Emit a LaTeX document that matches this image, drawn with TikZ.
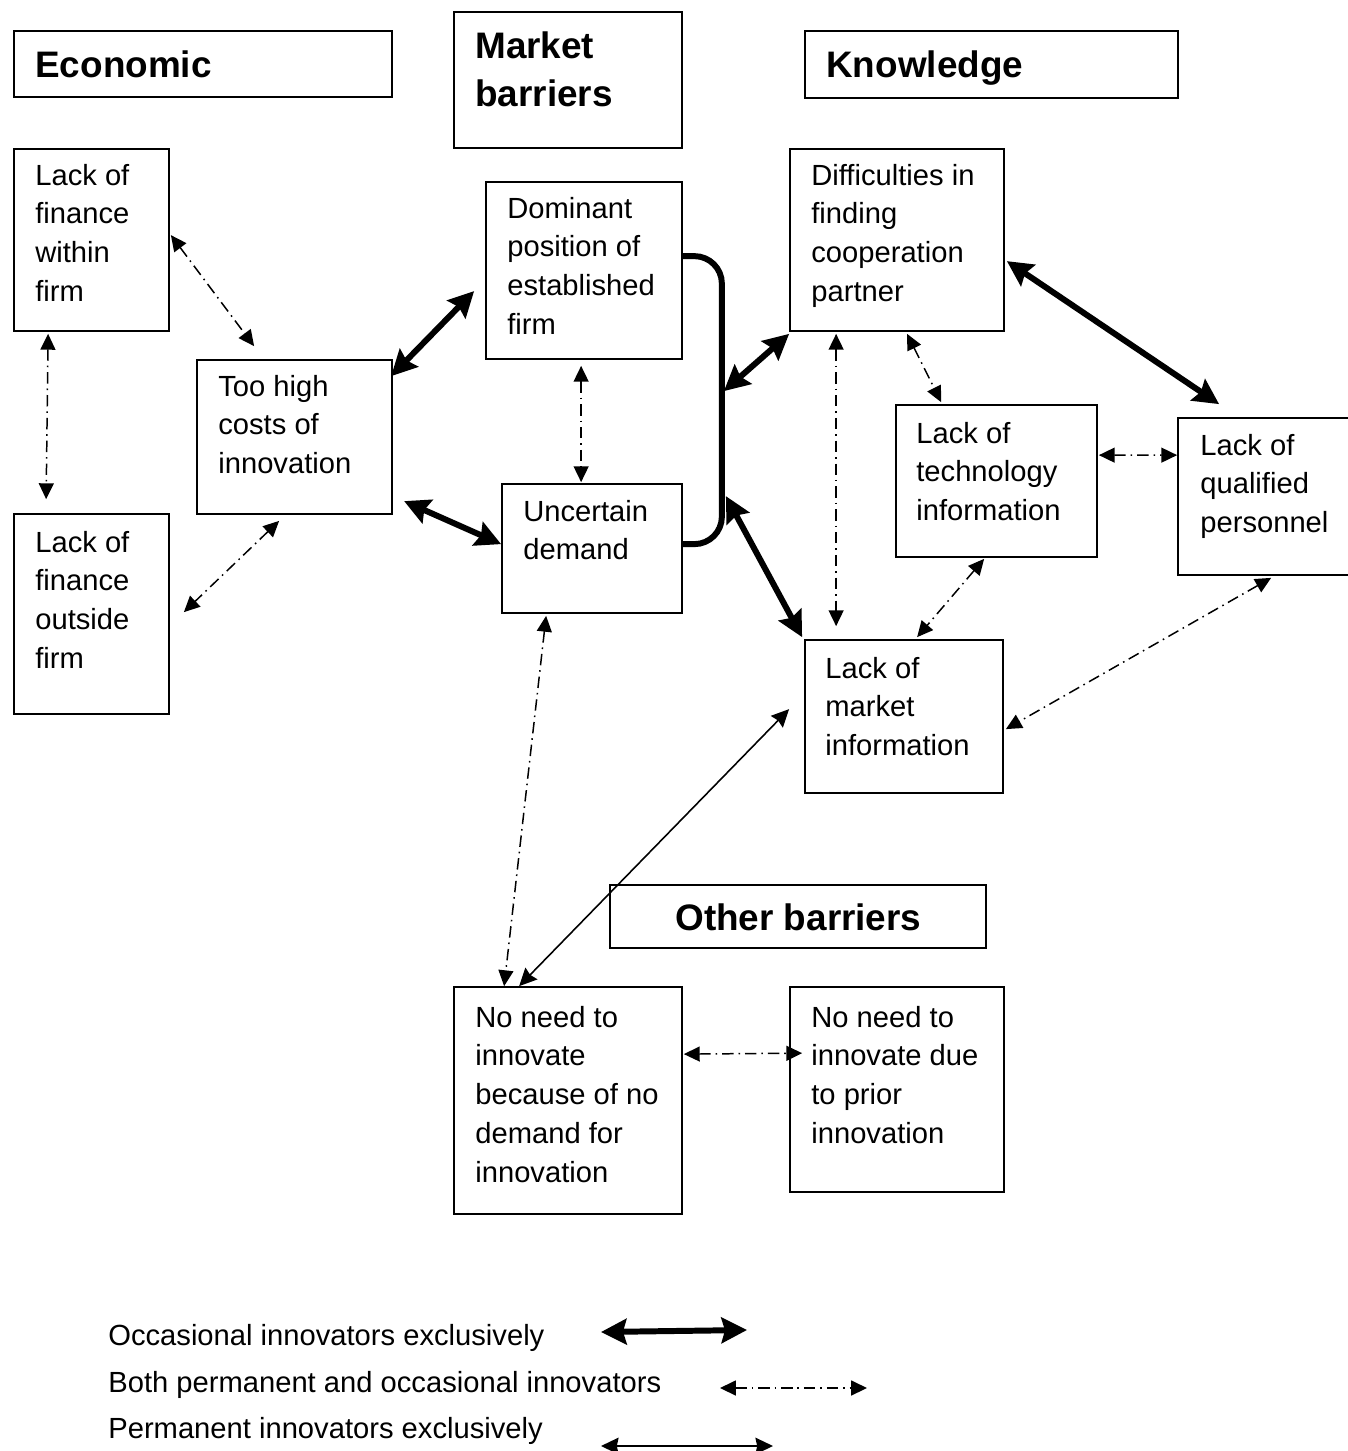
\documentclass[tikz,border=0pt]{standalone}
\usepackage{fontspec}
\setmainfont{Liberation Sans}
\usetikzlibrary{arrows.meta,calc,fit}
\newcommand\bxtext[1]{\parbox[t]{8cm}{\raggedright #1}}
\tikzset{
  box/.style={draw, line width=1pt, inner sep=0pt},
  body/.style={anchor=base west, inner sep=0pt, font=\fontsize{16.6}{22.1}\selectfont},
  headtxt/.style={anchor=base west, inner sep=0pt, font=\fontsize{21}{27.8}\selectfont\bfseries},
  occ/.style={line width=3.4pt, {Stealth[length=14.5pt,width=14.5pt,inset=2pt]}-{Stealth[length=14.5pt,width=14.5pt,inset=2pt]}},
  both/.style={line width=0.85pt, dash pattern=on 6.5pt off 2.8pt on 0.9pt off 2.8pt, {Triangle[length=9pt,width=8.5pt]}-{Triangle[length=9pt,width=8.5pt]}},
  perm/.style={line width=0.9pt, {Stealth[length=10pt,width=9.5pt,inset=1pt]}-{Stealth[length=10pt,width=9.5pt,inset=1pt]}},
}
\begin{document}
\begin{tikzpicture}[x=0.02cm,y=-0.02cm]
\useasboundingbox (0,0) rectangle (1348,1451);

% ---------- boxes ----------
\node[box, fit={(14,31) (392,97)}] (econ) {};
\node[box, fit={(454,12) (682,148)}] (mkt) {};
\node[box, fit={(805,31) (1178,98)}] (know) {};
\node[box, fit={(14,149) (169,331)}] (finin) {};
\node[box, fit={(197,360) (392,514)}] (cost) {};
\node[box, fit={(14,514) (169,714)}] (finout) {};
\node[box, fit={(486,182) (682,359)}] (dom) {};
\node[box, fit={(502,484) (682,613)}] (unc) {};
\node[box, fit={(790,149) (1004,331)}] (diff) {};
\node[box, fit={(896,405) (1097,557)}] (tech) {};
\node[box, fit={(1178,418) (1362,575)}] (qual) {};
\node[box, fit={(805,640) (1003,793)}] (mi) {};
\node[box, fit={(610,885) (986,948)}] (other) {};
\node[box, fit={(454,987) (682,1214)}] (nn) {};
\node[box, fit={(790,987) (1004,1192)}] (np) {};

% ---------- texts ----------
\node[headtxt] (econ-t) at (35,77) {Economic};
\node[headtxt] (mkt-t) at (475,58) {\bxtext{Market\\barriers}};
\node[headtxt] (know-t) at (826,77) {Knowledge};
\node[headtxt] (other-t) at (675,930) {Other barriers};

\node[body] (finin-t) at (35,185) {\bxtext{Lack of\\finance\\within\\firm}};
\node[body] (cost-t) at (218,396) {\bxtext{Too high\\costs of\\innovation}};
\node[body] (finout-t) at (35,552) {\bxtext{Lack of\\finance\\outside\\firm}};
\node[body] (dom-t) at (507,218) {\bxtext{Dominant\\position of\\established\\firm}};
\node[body] (unc-t) at (523,521) {\bxtext{Uncertain\\demand}};
\node[body] (diff-t) at (811,185) {\bxtext{Difficulties in\\finding\\cooperation\\partner}};
\node[body] (tech-t) at (916,443) {\bxtext{Lack of\\technology\\information}};
\node[body] (qual-t) at (1200,455) {\bxtext{Lack of\\qualified\\personnel}};
\node[body] (mi-t) at (825,678) {\bxtext{Lack of\\market\\information}};
\node[body] (nn-t) at (475,1027) {\bxtext{No need to\\innovate\\because of no\\demand for\\innovation}};
\node[body] (np-t) at (811,1027) {\bxtext{No need to\\innovate due\\to prior\\innovation}};

% ---------- bracket joining dominant position and uncertain demand ----------
\draw[line width=3.4pt, rounded corners=0.55cm]
  ($(dom.north east)+(0,75)$) -| ($(unc.north east)+(39,0)$) |- ($(unc.north east)+(0,61)$);
\coordinate (b1) at ($(unc.north east)+(41,-92)$);
\coordinate (b2) at ($(unc.north east)+(43,13)$);

% ---------- occasional innovators exclusively ----------
\draw[occ] ($(cost.north west)+(195,17)$) -- ($(dom.north west)+(-11,110)$);
\draw[occ] ($(cost.north west)+(208,142)$) -- ($(unc.north west)+(0,61)$);
\draw[occ] (b1) -- ($(diff.south west)+(0,2)$);
\draw[occ] (b2) -- ($(mi.north west)+(-2,-2)$);
\draw[occ] ($(diff.north east)+(2,113)$) -- ($(qual.north west)+(42,-13)$);

% ---------- both permanent and occasional innovators ----------
\draw[both] ($(finin.north east)+(1,87)$) -- ($(cost.north west)+(58,-13)$);
\draw[both] ($(finin.south west)+(35,2)$) -- ($(finout.north west)+(33,-14)$);
\draw[both] ($(cost.south west)+(83,6)$) -- ($(finout.north east)+(14,99)$);
\draw[both] ($(dom.south west)+(96,6)$) -- ($(unc.north west)+(80,-1)$);
\draw[both] ($(diff.south west)+(47,2)$) -- ($(mi.north west)+(32,-13)$);
\draw[both] ($(diff.south west)+(118,2)$) -- ($(tech.north west)+(46,-2)$);
\draw[both] ($(tech.north east)+(1,51)$) -- ($(qual.north west)+(0,38)$);
\draw[both] ($(tech.south west)+(89,1)$) -- ($(mi.north west)+(113,-2)$);
\draw[both] ($(qual.south west)+(94,2)$) -- ($(mi.north east)+(2,90)$);
\draw[both] ($(unc.south west)+(45,2)$) -- ($(nn.north west)+(51,0)$);
\draw[both] ($(nn.north east)+(1,68)$) -- ($(np.north west)+(13,67)$);

% ---------- permanent innovators exclusively ----------
\draw[perm] ($(nn.north west)+(66,0)$) -- ($(mi.north west)+(-15,70)$);

% ---------- legend ----------
\node[body] (leg1) at (108,1345) {Occasional innovators exclusively};
\node[body] (leg2) at (108,1392) {Both permanent and occasional innovators};
\node[body] (leg3) at (108,1438) {Permanent innovators exclusively};
\coordinate (l1a) at (601,1332);
\coordinate (l1b) at (747,1330);
\coordinate (l2a) at (720,1388);
\coordinate (l2b) at (867,1388);
\coordinate (l3a) at (601,1446);
\coordinate (l3b) at (773,1446);
\draw[occ] (l1a) -- (l1b);
\draw[both] (l2a) -- (l2b);
\draw[perm] (l3a) -- (l3b);
\end{tikzpicture}
\end{document}
